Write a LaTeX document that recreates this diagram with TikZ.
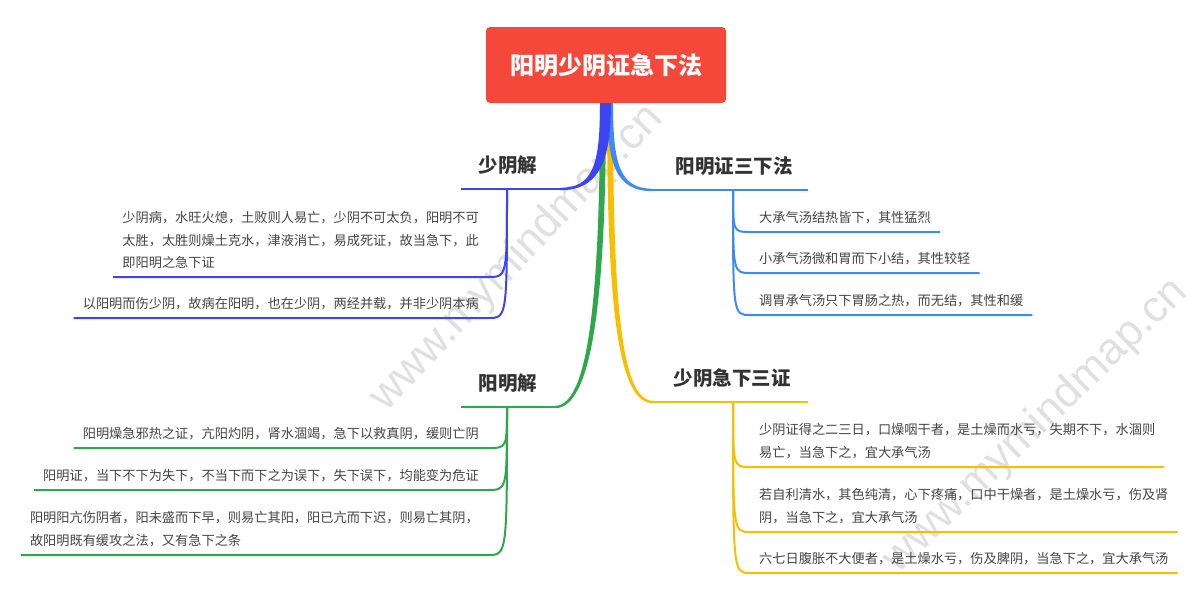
\documentclass[tikz,border=0pt]{standalone}
\usepackage{fontspec}
\setmainfont{Noto Sans CJK SC}
\newfontfamily\wmfont{Liberation Sans}
\usetikzlibrary{calc}
\definecolor{rootred}{HTML}{F4483B}
\definecolor{cB}{HTML}{3D45F2}
\definecolor{cLB}{HTML}{3D8BF0}
\definecolor{cG}{HTML}{2EA84A}
\definecolor{cY}{HTML}{F9BE00}
\definecolor{ttlc}{HTML}{333333}
\definecolor{txtc}{HTML}{444444}
\tikzset{
  rootbox/.style={draw=none, fill=rootred, rounded corners=4pt, minimum width=240pt, minimum height=76pt,
    text=white, font=\fontsize{24}{28}\selectfont\bfseries, inner sep=0pt},
  ttl/.style={font=\fontsize{19.5}{24}\selectfont\bfseries, text=ttlc, inner sep=0pt},
  leaf/.style={font=\fontsize{13.2}{22.5}\selectfont, text=txtc, align=left, inner xsep=9pt, inner ysep=8pt},
  conn/.style={line width=2pt},
  uline/.style={line width=2.2pt},
  wm/.style={font=\wmfont\fontsize{44}{48}\selectfont, text=black!12}
}
\begin{document}
\begin{tikzpicture}[x=1pt,y=-1pt]
\useasboundingbox (0,0) rectangle (1200,600);
\fill[white] (0,0) rectangle (1200,600);
% watermarks
\node[wm, rotate=46.5] (wm1) at (517,258) {www.mymindmap.cn};
\node[wm, rotate=44] (wm2) at (1036,426) {www.mymindmap.cn};
% root
\node[rootbox] (root) at (606,65) {阳明少阴证急下法};
% titles
\node[ttl] (t1) at (508,165) {少阴解};
\node[ttl] (t2) at (734,166) {阳明证三下法};
\node[ttl] (t3) at (508,383) {阳明解};
\node[ttl] (t4) at (732,378) {少阴急下三证};
% branch points
\coordinate (b1r) at (560,189); \coordinate (b1l) at (461,189); \coordinate (b1) at (507,189);
\coordinate (b2l) at (653,190); \coordinate (b2r) at (808,190); \coordinate (b2) at (733,190);
\coordinate (b3r) at (555,407); \coordinate (b3l) at (461,407); \coordinate (b3) at (507,407);
\coordinate (b4l) at (653,402); \coordinate (b4r) at (808,402); \coordinate (b4) at (733,402);
% yellow main branch
\fill[cY] ($(root.south)+(1,0)$) .. controls ($(root.south)+(1,192)$) and ($(b4l)+(-37,1.2)$) .. ($(b4l)+(0,1.2)$)
  -- ($(b4l)+(0,-1.2)$) .. controls ($(b4l)+(-33,-1.2)$) and ($(root.south)+(7,192)$) .. ($(root.south)+(7,0)$) -- cycle;
\draw[cY, uline] (b4l) -- (b4r);
% green main branch
\fill[cG] ($(root.south)+(-6,0)$) .. controls ($(root.south)+(-6,197)$) and ($(b3r)+(33,-1.2)$) .. ($(b3r)+(0,-1.2)$)
  -- ($(b3r)+(0,1.2)$) .. controls ($(b3r)+(37,1.2)$) and ($(root.south)+(0,197)$) .. ($(root.south)+(0,0)$) -- cycle;
\draw[cG, uline] (b3r) -- (b3l);
% light blue main branch
\fill[cLB] ($(root.south)+(1,0)$) .. controls ($(root.south)+(1,62)$) and ($(b2l)+(-37,1.2)$) .. ($(b2l)+(0,1.2)$)
  -- ($(b2l)+(0,-1.2)$) .. controls ($(b2l)+(-33,-1.2)$) and ($(root.south)+(7,62)$) .. ($(root.south)+(7,0)$) -- cycle;
\draw[cLB, uline] (b2l) -- (b2r);
% blue main branch
\fill[cB] ($(root.south)+(-6,0)$) .. controls ($(root.south)+(-6,62)$) and ($(b1r)+(33,-1.2)$) .. ($(b1r)+(0,-1.2)$)
  -- ($(b1r)+(0,1.2)$) .. controls ($(b1r)+(37,1.2)$) and ($(root.south)+(5,62)$) .. ($(root.south)+(5,0)$) -- cycle;
\draw[cB, uline] (b1r) -- (b1l);
% blue leaves
\node[leaf, anchor=south east] (c11) at (488,277) {少阴病，水旺火熄，土败则人易亡，少阴不可太负，阳明不可\\太胜，太胜则燥土克水，津液消亡，易成死证，故当急下，此\\即阳明之急下证};
\node[leaf, anchor=south east] (c12) at (488,318) {以阳明而伤少阴，故病在阳明，也在少阴，两经并载，并非少阴本病};
\draw[cB, conn] (b1) .. controls (b1 |- c11.south east) .. (c11.south east) -- (c11.south west);
\draw[cB, conn] (b1) .. controls (b1 |- c12.south east) .. (c12.south east) -- (c12.south west);
% light blue leaves
\node[leaf, anchor=south west] (c21) at (750,232) {大承气汤结热皆下，其性猛烈};
\node[leaf, anchor=south west] (c22) at (750,273) {小承气汤微和胃而下小结，其性较轻};
\node[leaf, anchor=south west] (c23) at (750,315) {调胃承气汤只下胃肠之热，而无结，其性和缓};
\draw[cLB, conn] (b2) .. controls (b2 |- c21.south west) .. (c21.south west) -- (c21.south east);
\draw[cLB, conn] (b2) .. controls (b2 |- c22.south west) .. (c22.south west) -- (c22.south east);
\draw[cLB, conn] (b2) .. controls (b2 |- c23.south west) .. (c23.south west) -- (c23.south east);
% green leaves
\node[leaf, anchor=south east] (c31) at (488,448) {阳明燥急邪热之证，亢阳灼阴，肾水涸竭，急下以救真阴，缓则亡阴};
\node[leaf, anchor=south east] (c32) at (488,490) {阳明证，当下不下为失下，不当下而下之为误下，失下误下，均能变为危证};
\node[leaf, anchor=south east] (c33) at (488,555) {阳明阳亢伤阴者，阳未盛而下早，则易亡其阳，阳已亢而下迟，则易亡其阴，\\故阳明既有缓攻之法，又有急下之条};
\draw[cG, conn] (b3) .. controls (b3 |- c31.south east) .. (c31.south east) -- (c31.south west);
\draw[cG, conn] (b3) .. controls (b3 |- c32.south east) .. (c32.south east) -- (c32.south west);
\draw[cG, conn] (b3) .. controls (b3 |- c33.south east) .. (c33.south east) -- (c33.south west);
% yellow leaves
\node[leaf, anchor=south west] (c41) at (750,467) {少阴证得之二三日，口燥咽干者，是土燥而水亏，失期不下，水涸则\\易亡，当急下之，宜大承气汤};
\node[leaf, anchor=south west] (c42) at (750,532) {若自利清水，其色纯清，心下疼痛，口中干燥者，是土燥水亏，伤及肾\\阴，当急下之，宜大承气汤};
\node[leaf, anchor=south west] (c43) at (750,573) {六七日腹胀不大便者，是土燥水亏，伤及脾阴，当急下之，宜大承气汤};
\draw[cY, conn] (b4) .. controls (b4 |- c41.south west) .. (c41.south west) -- (c41.south east);
\draw[cY, conn] (b4) .. controls (b4 |- c42.south west) .. (c42.south west) -- (c42.south east);
\draw[cY, conn] (b4) .. controls (b4 |- c43.south west) .. (c43.south west) -- (c43.south east);
\end{tikzpicture}
\end{document}
